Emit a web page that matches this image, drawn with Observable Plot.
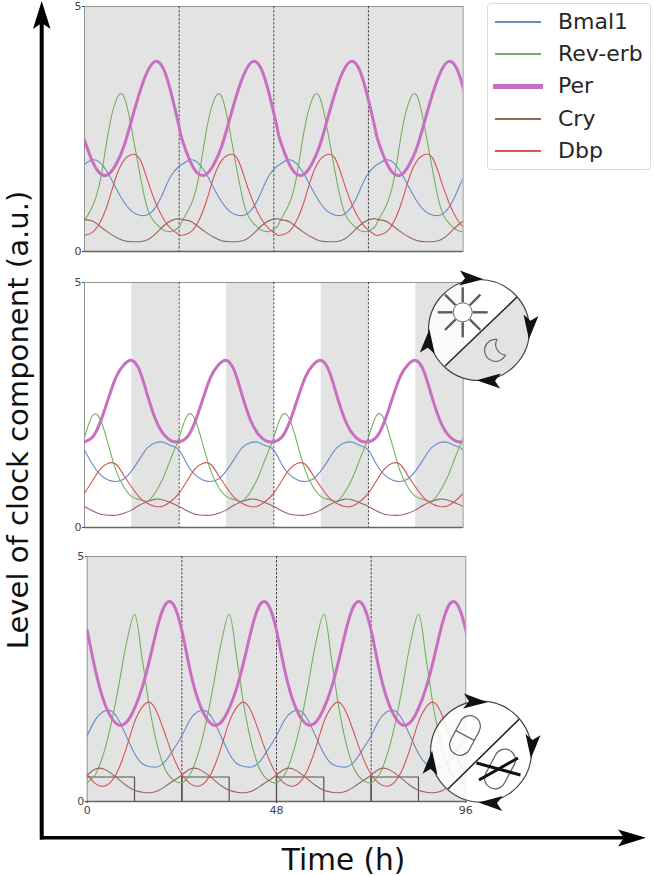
<!DOCTYPE html>
<html>
<head>
<meta charset="utf-8">
<script src="https://cdn.jsdelivr.net/npm/d3@7"></script>
<script src="https://cdn.jsdelivr.net/npm/@observablehq/plot@0.6"></script>
<style>
  html, body { margin: 0; padding: 0; background: #fff; }
  #page { position: relative; width: 654px; height: 876px; overflow: hidden; font-family: "DejaVu Sans", sans-serif; }
  #page > svg, #page > div { position: absolute; }
  #legend { left: 487px; top: 3px; width: 164px; height: 167px; border: 1.5px solid #dcdcdc; border-radius: 4px; box-sizing: border-box; background: #fff; }
  .lg-row { position: absolute; left: 0; right: 0; height: 32px; }
  .lg-swatch { position: absolute; left: 7px; width: 46px; }
  .lg-label { position: absolute; left: 70px; top: 0; font-size: 22px; line-height: 32px; color: #262626; }
  #xtitle { left: 343.5px; top: 860px; transform: translate(-50%, -50%); font-size: 29.5px; white-space: nowrap; color: #111; }
</style>
</head>
<body>
<div id="page"></div>
<script>
// Series names and colours
const seriesNames = ["Bmal1", "Rev-erb", "Per", "Cry", "Dbp"];
const seriesColors = ["#648cc8", "#74b05e", "#c96fc0", "#96665c", "#d4555a"];
const seriesWidths = [1.1, 1.1, 3, 1.1, 1.1];

// Shared sampling of one cycle (hours)
const cycleHours = [0, 2, 4, 6, 8, 10, 12, 14, 16, 18, 20, 22, 24];

// Panel 1: free running (period about 24.8 h)
const freePeriod = 24.8;
const freeBmal1 = [1.78, 1.87, 1.81, 1.59, 1.29, 1.01, 0.82, 0.74, 0.75, 0.90, 1.21, 1.55, 1.74];
const freeRev = [0.63, 0.92, 1.45, 2.42, 3.08, 3.16, 2.48, 1.60, 0.87, 0.58, 0.44, 0.41, 0.50];
const freePer = [2.27, 1.84, 1.59, 1.57, 1.78, 2.15, 2.70, 3.25, 3.68, 3.88, 3.73, 3.22, 2.54];
const freeCry = [0.65, 0.62, 0.51, 0.39, 0.29, 0.22, 0.20, 0.20, 0.24, 0.36, 0.52, 0.63, 0.67];
const freeDbp = [0.33, 0.39, 0.60, 1.00, 1.52, 1.86, 1.98, 1.89, 1.45, 1.00, 0.67, 0.46, 0.34];

// Panel 2: light/dark entrained
const lightBmal1 = [1.58, 1.29, 1.08, 0.97, 0.94, 0.99, 1.16, 1.40, 1.63, 1.73, 1.74, 1.67, 1.58];
const lightRev = [1.84, 2.28, 2.21, 1.70, 1.16, 0.82, 0.63, 0.57, 0.54, 0.72, 1.02, 1.43, 1.84];
const lightPer = [1.75, 1.84, 2.15, 2.62, 3.07, 3.32, 3.41, 3.20, 2.69, 2.21, 1.91, 1.77, 1.75];
const lightCry = [0.43, 0.34, 0.27, 0.25, 0.25, 0.29, 0.36, 0.46, 0.53, 0.58, 0.56, 0.50, 0.43];
const lightDbp = [0.70, 0.95, 1.19, 1.31, 1.29, 1.06, 0.82, 0.61, 0.49, 0.43, 0.44, 0.54, 0.70];

// Panel 3: drug entrained
const drugBmal1 = [1.34, 1.66, 1.83, 1.85, 1.66, 1.32, 0.98, 0.77, 0.71, 0.71, 0.84, 1.08, 1.34];
const drugRev = [0.38, 0.54, 0.94, 1.56, 2.37, 3.25, 3.82, 2.88, 1.83, 1.08, 0.62, 0.43, 0.38];
const drugPer = [3.49, 2.71, 2.10, 1.73, 1.56, 1.62, 1.90, 2.34, 2.95, 3.62, 4.04, 4.00, 3.49];
const drugCry = [0.54, 0.66, 0.67, 0.58, 0.45, 0.32, 0.23, 0.19, 0.18, 0.22, 0.32, 0.43, 0.54];
const drugDbp = [0.55, 0.37, 0.31, 0.40, 0.67, 1.11, 1.62, 1.93, 2.02, 1.76, 1.32, 0.88, 0.55];

// Grey shading, day boundaries, drug pulse
const dayBoundaries = [24, 48, 72];
const fullShade = [[0, 96]];
const darkShade = [[12, 24], [36, 48], [60, 72], [84, 96]];
const pulseHours = [0, 12, 24, 36, 48, 60, 72, 84, 96];
const pulseLevels = [0.5, 0, 0.5, 0, 0.5, 0, 0.5, 0, 0];
const yTicks = [0, 5];
const xTicks = [0, 48, 96];

function expand(values, period) {
  const rows = [];
  let last = -Infinity;
  for (let day = 0; day < 5; day++) {
    cycleHours.forEach((h, i) => {
      const t = h + day * period;
      if (t > last) { rows.push({t, v: values[i]}); last = t; }
    });
  }
  return rows;
}

function panel({top, left, shade, series, period, pulse, labels}) {
  const marginTop = 6, marginBottom = 24, plotHeight = 245;
  const marks = [
    Plot.rectX(shade, {x1: d => d[0], x2: d => d[1], y1: 0, y2: 5, fill: "#e3e3e3"}),
    Plot.frame({stroke: "#949494", strokeWidth: 1}),
    Plot.ruleX(dayBoundaries, {stroke: "#222", strokeWidth: 0.8, strokeDasharray: "2.5,1.5"})
  ];
  if (pulse) {
    marks.push(Plot.line(pulseHours.map((t, i) => ({t, v: pulseLevels[i]})),
      {x: "t", y: "v", curve: "step-after", stroke: "#555", strokeWidth: 1.2}));
    marks.push(Plot.ruleX(dayBoundaries, {y1: 0, y2: 0.5, stroke: "#555", strokeWidth: 1.2}));
  }
  series.forEach((vals, i) => {
    marks.push(Plot.line(expand(vals, period), {
      x: "t", y: "v", clip: true,
      curve: pulse && i === 1 ? "catmull-rom" : "natural",
      stroke: seriesColors[i], strokeWidth: seriesWidths[i]
    }));
  });
  marks.push(Plot.ruleY([0], {stroke: "#666", strokeWidth: 1.6}));
  marks.push(Plot.axisY(yTicks, {tickSize: 2, tickPadding: 1, fontSize: 11, color: "#444", label: null, tickFormat: d => String(d)}));
  if (labels) {
    marks.push(Plot.axisX(xTicks, {tickSize: 2, tickPadding: 3, fontSize: 11, color: "#444", label: null, tickFormat: d => String(d)}));
  }
  const svg = Plot.plot({
    width: 654,
    height: plotHeight + marginTop + marginBottom,
    marginLeft: left,
    marginRight: 654 - left - 378.6,
    marginTop,
    marginBottom,
    x: {domain: [0, 96], axis: null},
    y: {domain: [0, 5], axis: null},
    style: {background: "transparent", fontFamily: "'DejaVu Sans', sans-serif", overflow: "visible"},
    marks
  });
  svg.style.left = "0px";
  svg.style.top = (top - marginTop) + "px";
  return svg;
}

const page = document.getElementById("page");
page.append(panel({top: 6, left: 84, shade: fullShade, period: freePeriod,
  series: [freeBmal1, freeRev, freePer, freeCry, freeDbp]}));
page.append(panel({top: 282, left: 84, shade: darkShade, period: 24,
  series: [lightBmal1, lightRev, lightPer, lightCry, lightDbp]}));
page.append(panel({top: 556, left: 86.7, shade: fullShade, period: 24, pulse: true, labels: true,
  series: [drugBmal1, drugRev, drugPer, drugCry, drugDbp]}));

// Overlay: big axes arrows, axis title and the two schedule icons
const arrowHead = "M12.5,0 L-11.5,-7.5 L-6,0 L-11.5,7.5 Z";
const overlay = document.createElementNS("http://www.w3.org/2000/svg", "svg");
overlay.setAttribute("width", 654);
overlay.setAttribute("height", 876);
overlay.style.left = "0"; overlay.style.top = "0";
const ring = (cx, cy, rots) => `<circle cx="${cx}" cy="${cy}" r="50.5" fill="none" stroke="#444" stroke-width="1.2"/>` +
  rots.map(([px, py, a]) =>
  `<path d="${arrowHead}" transform="translate(${px},${py}) rotate(${a})" fill="#111"/>`).join("");
const rays = d3.range(8).map(i => {
  const a = i * Math.PI / 4;
  return `<line x1="${462.7 + 10 * Math.cos(a)}" y1="${312.3 + 10 * Math.sin(a)}" x2="${462.7 + 25 * Math.cos(a)}" y2="${312.3 + 25 * Math.sin(a)}" stroke="#5a5a5a" stroke-width="2.4"/>`;
}).join("");
const pill = (cx, cy, rot, divider) => `<g transform="translate(${cx},${cy}) rotate(${rot})" fill="none" stroke="#666" stroke-width="1.3">
  <rect x="-10.5" y="-21" width="21" height="42" rx="10.5"/>${divider ? '<line x1="-10.5" x2="10.5" y1="0" y2="0"/>' : ""}</g>`;
overlay.innerHTML = `
  <line x1="41.7" y1="839.5" x2="41.7" y2="20" stroke="#000" stroke-width="4"/>
  <line x1="40" y1="837.7" x2="626" y2="837.7" stroke="#000" stroke-width="3.6"/>
  <path d="M41.7,1 L50.5,29 L41.7,23 L33,29 Z" fill="#000"/>
  <path d="M646,837.7 L618,846.5 L624,837.7 L618,829.5 Z" fill="#000"/>
  <text transform="translate(27.5,420) rotate(-90)" text-anchor="middle" font-family="'DejaVu Sans', sans-serif" font-size="29.1" fill="#111">Level of clock component (a.u.)</text>

  <circle cx="479" cy="330" r="50.5" fill="#ffffff" fill-opacity="0.8"/>
  <path d="M445,367.3 A50.5,50.5 0 0 0 517,296.7 Z" fill="#e3e3e3"/>
  <line x1="445" y1="366" x2="517" y2="297" stroke="#222" stroke-width="1.5"/>
  ${rays}
  <circle cx="462.7" cy="312.3" r="9.5" fill="#fff" stroke="#666" stroke-width="1"/>
  <path d="M497,339.5 A11,11 0 1 0 505.5,355 A10.5,10.5 0 0 1 497,339.5 Z" fill="none" stroke="#666" stroke-width="1.2"/>
  ${ring(479, 330, [[471, 278.5, 3], [530, 326.7, 95], [489, 380.7, 182], [428.3, 341.7, -85]])}

  <circle cx="481" cy="751.7" r="50.5" fill="#ffffff" fill-opacity="0.85"/>
  <line x1="447.7" y1="789.3" x2="519.3" y2="719" stroke="#222" stroke-width="1.5"/>
  ${pill(465, 735.5, 28, true)}
  ${pill(500, 769, 28, false)}
  <line x1="476.5" y1="763" x2="520.5" y2="775" stroke="#111" stroke-width="3"/>
  <line x1="479" y1="780" x2="518" y2="758" stroke="#111" stroke-width="3"/>
  ${ring(481, 751.7, [[475, 701.5, 3], [532, 746, 95], [491, 803, 182], [431, 763, -85]])}
`;
page.append(overlay);

// Legend
const legend = document.createElement("div");
legend.id = "legend";
seriesNames.forEach((name, i) => {
  const row = document.createElement("div");
  row.className = "lg-row";
  row.style.top = (2 + i * 32.2) + "px";
  const sw = document.createElement("div");
  sw.className = "lg-swatch";
  const h = i === 2 ? 5 : 2;
  sw.style.height = h + "px";
  sw.style.top = (16 - h / 2) + "px";
  sw.style.background = seriesColors[i];
  if (i === 2) { sw.style.left = "5px"; sw.style.width = "50px"; }
  const lb = document.createElement("div");
  lb.className = "lg-label";
  lb.textContent = name;
  row.append(sw, lb);
  legend.append(row);
});
page.append(legend);

// X axis title
const xt = document.createElement("div"); xt.id = "xtitle"; xt.textContent = "Time (h)";
page.append(xt);
</script>
</body>
</html>
